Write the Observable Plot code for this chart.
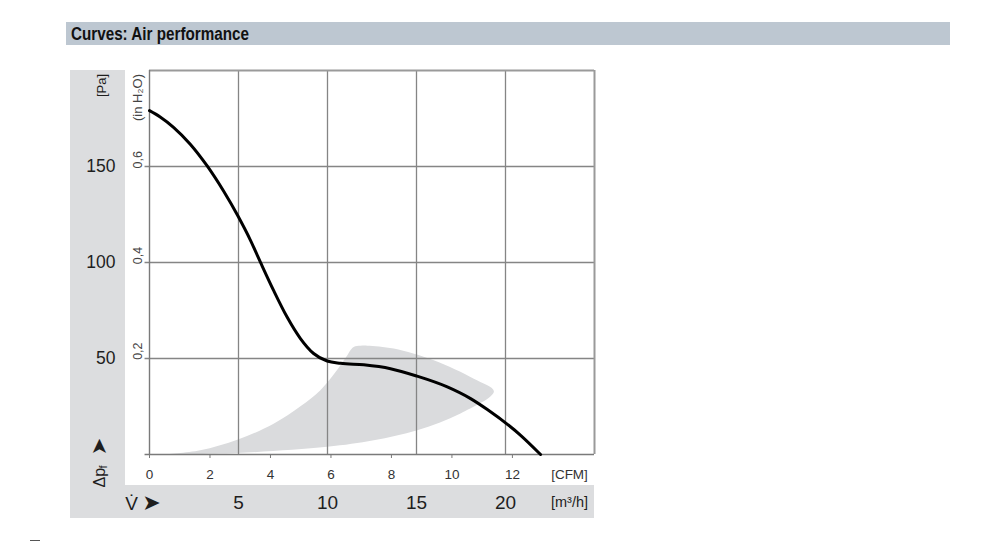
<!DOCTYPE html>
<html><head><meta charset="utf-8">
<script src="https://cdn.jsdelivr.net/npm/d3@7"></script>
<script src="https://cdn.jsdelivr.net/npm/@observablehq/plot@0.6"></script>
<style>
body{margin:0;background:#fff;}
#wrap{position:relative;width:1000px;height:543px;overflow:hidden;font-family:"Liberation Sans",Arial,sans-serif;}
#hdr{position:absolute;left:66px;top:22px;width:884px;height:23px;background:#bdc7d1;}
#hdr span{position:absolute;left:5px;top:2px;font-weight:bold;font-size:17.5px;font-family:"Liberation Sans Narrow","Arial Narrow","Liberation Sans",sans-serif;color:#111;white-space:nowrap;transform:scaleX(0.87);transform-origin:0 50%;}
#panel{position:absolute;left:70px;top:70px;width:524px;height:448px;background:#dcdddf;}
#inner{position:absolute;left:125px;top:70px;width:469px;height:415px;background:#fff;}
#dash{position:absolute;left:30px;top:540px;width:10px;height:1px;background:#555;}
#chart{position:absolute;left:0;top:0;}
</style></head>
<body><div id="wrap"><div id="hdr"><span id="title"></span></div><div id="panel"></div><div id="inner"></div><div id="dash"></div><div id="chart"></div></div>
<script>
const title = "Curves: Air performance";
// Performance curve: flow [m³/h] vs static pressure [Pa]
const curveFlow = [0, 0.6, 1.35, 2.29, 3.23, 4.16, 4.97, 5.66, 6.23, 6.97, 7.73, 8.48, 9.22, 9.98, 10.73, 12.04, 13.54, 15.0, 16.73, 18.04, 18.98, 20.85, 21.97];
const curvePa   = [179.1, 175.8, 170.4, 161.6, 150.4, 137.2, 124.2, 111.8, 100.2, 85.5, 71.6, 60.4, 52.6, 48.7, 47.5, 46.7, 44.7, 40.9, 35.2, 29.1, 23.4, 10.0, 0];
// Shaded operating range (polygon outline)
const shadeFlow = [0.77, 2.85, 4.97, 6.97, 8.48, 9.6, 10.44, 11.0, 11.47, 11.85, 12.23, 13.72, 15.97, 18.22, 19.35, 17.47, 15.04, 12.6, 9.98, 4.92, 0.77];
const shadePa   = [0, 2.2, 7.8, 16.0, 25.1, 33.5, 42.8, 50.1, 56.0, 56.6, 56.7, 55.2, 49.1, 39.5, 32.9, 21.3, 12.6, 7.4, 4.0, 0.8, 0];
const gridFlow = [5, 10, 15, 20];
const gridPa = [50, 100, 150];
const paLabels = [50, 100, 150];
const inchTicks = [0.2, 0.4, 0.6];
const cfmTicks = [0, 2, 4, 6, 8, 10, 12];
const m3hLabels = [5, 10, 15, 20];
const PA_PER_INH2O = 249.09;
const M3H_PER_CFM = 1.699;

document.getElementById("title").textContent = title;

const curve = curveFlow.map((x, i) => ({x, y: curvePa[i]}));
const shade = shadeFlow.map((x, i) => ({x, y: shadePa[i]}));
const txt = "#1e1e1e";
const C = {textAnchor: "middle", lineAnchor: "middle"};

const chart = Plot.plot({
  width: 1000, height: 543,
  marginLeft: 149, marginRight: 406, marginTop: 70, marginBottom: 89,
  style: {background: "transparent", fontFamily: "'Liberation Sans', Arial, sans-serif", overflow: "visible"},
  x: {domain: [0, 25], axis: null},
  y: {domain: [0, 200], axis: null},
  marks: [
    Plot.line(shade, {x: "x", y: "y", fill: "#dadbdd", stroke: "none", curve: "catmull-rom"}),
    Plot.ruleX(gridFlow, {y1: 0, y2: 200, stroke: "#858585", strokeWidth: 1.3}),
    Plot.ruleY(gridPa, {x1: -0.25, x2: 25, stroke: "#858585", strokeWidth: 1.3}),
    Plot.ruleX([25], {y1: 0, y2: 200, stroke: "#9a9a9a", strokeWidth: 2}),
    Plot.ruleY([200], {x1: 0, x2: 25, stroke: "#9a9a9a", strokeWidth: 2}),
    Plot.ruleX([0], {y1: 0, y2: 200, stroke: "#7a7a7a", strokeWidth: 1.4}),
    Plot.ruleY([0], {x1: -0.25, x2: 25, stroke: "#7a7a7a", strokeWidth: 1.4}),
    Plot.line(curve, {x: "x", y: "y", stroke: "#000", strokeWidth: 3, curve: "monotone-x"}),
    // CFM axis
    Plot.axisX(cfmTicks.map(c => c * M3H_PER_CFM), {
      anchor: "bottom", label: null, tickSize: 4, tickPadding: 11, fontSize: 13.5,
      stroke: "#7a7a7a", fill: "#333",
      tickFormat: d => String(Math.round(d / M3H_PER_CFM))
    }),
    Plot.text(["[CFM]"], {...C, text: d => d, frameAnchor: "bottom-right", dx: -25, dy: 20, fontSize: 13.5, fill: "#333"}),
    // m³/h labels
    Plot.text(m3hLabels, {...C, x: d => d, text: d => String(d), frameAnchor: "bottom", dy: 48, fontSize: 19, fill: txt}),
    Plot.text(["[m³/h]"], {...C, text: d => d, frameAnchor: "bottom-right", dx: -25, dy: 48, fontSize: 14.5, fill: txt}),
    Plot.text(["V\u0307"], {...C, text: d => d, frameAnchor: "bottom-left", dx: -18, dy: 49, fontSize: 19, fill: txt}),
    Plot.text(["➤"], {...C, text: d => d, frameAnchor: "bottom-left", dx: 2, dy: 48, fontSize: 22, fill: txt, fontFamily: "DejaVu Sans"}),
    // Pa labels
    Plot.text(paLabels, {x: 0, y: d => d, text: d => String(d), textAnchor: "end", lineAnchor: "middle", dx: -34, fontSize: 17.5, fill: txt}),
    // in H2O labels
    Plot.text(inchTicks, {x: 0, y: d => d * PA_PER_INH2O, text: d => d.toFixed(1).replace(".", ","), rotate: -90, textAnchor: "start", lineAnchor: "middle", dx: -12, dy: 1, fontSize: 12.5, fill: "#444"}),
    Plot.text(["(in H₂O)"], {...C, text: d => d, frameAnchor: "top-left", rotate: -90, dx: -12, dy: 27, fontSize: 13, fill: "#444"}),
    Plot.text(["[Pa]"], {...C, text: d => d, frameAnchor: "top-left", rotate: -90, dx: -48, dy: 15, fontSize: 13, fill: txt}),
    // Δpf label with arrow
    Plot.text(["Δp"], {text: d => d, textAnchor: "start", lineAnchor: "middle", frameAnchor: "bottom-left", rotate: -90, dx: -50, dy: 33, fontSize: 16, fill: txt}),
    Plot.text(["f"], {text: d => d, textAnchor: "start", lineAnchor: "middle", frameAnchor: "bottom-left", rotate: -90, dx: -46, dy: 14, fontSize: 11, fill: txt}),
    Plot.text(["➤"], {...C, text: d => d, frameAnchor: "bottom-left", rotate: -90, dx: -50, dy: -8, fontSize: 21, fill: txt, fontFamily: "DejaVu Sans"})
  ]
});
document.getElementById("chart").appendChild(chart);
</script>
</body></html>
